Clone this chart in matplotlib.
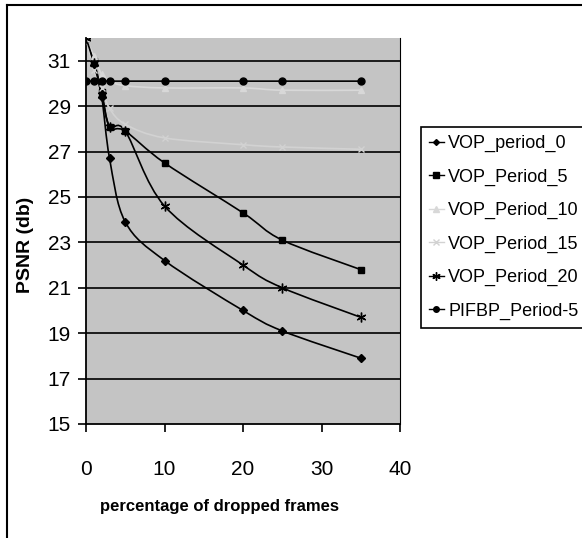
import numpy as np
import matplotlib
matplotlib.use('Agg')
from matplotlib import pyplot as plt
from matplotlib.path import Path
from matplotlib.patches import PathPatch
from matplotlib.lines import Line2D
from matplotlib import font_manager

names = {f.name for f in font_manager.fontManager.ttflist}
narrow = 'Liberation Sans Narrow' if 'Liberation Sans Narrow' in names else 'Liberation Sans'

# data
x = [0, 1, 2, 3, 5, 10, 20, 25, 35]
vop_0 = [32.0, 30.8, 29.4, 26.7, 23.9, 22.2, 20.0, 19.1, 17.9]
vop_5 = [32.0, 31.0, 29.6, 28.1, 27.9, 26.5, 24.3, 23.1, 21.8]
vop_10 = [32.0, 31.2, 30.4, 30.1, 29.9, 29.8, 29.8, 29.7, 29.7]
vop_15 = [32.0, 30.6, 29.8, 28.9, 28.2, 27.6, 27.3, 27.2, 27.1]
vop_20 = [32.0, 30.9, 29.5, 28.1, 27.9, 24.6, 22.0, 21.0, 19.7]
pifbp_5 = [30.1, 30.1, 30.1, 30.1, 30.1, 30.1, 30.1, 30.1, 30.1]

series = [
    ('VOP_period_0', vop_0, 'D', 4, 'black'),
    ('VOP_Period_5', vop_5, 's', 5, 'black'),
    ('VOP_Period_10', vop_10, '^', 5, '#d8d8d8'),
    ('VOP_Period_15', vop_15, 'x', 5, '#d2d2d2'),
    ('VOP_Period_20', vop_20, (6, 2, 0), 7, 'black'),
    ('PIFBP_Period-5', pifbp_5, 'o', 5, 'black'),
]


def smooth_path(xs, ys):
    # bezier segments like the spreadsheet "smoothed line" option
    pts = np.column_stack([xs, ys]).astype(float)
    verts = [pts[0]]
    codes = [Path.MOVETO]
    n = len(pts)
    for i in range(n - 1):
        p0 = pts[max(i - 1, 0)]
        p1 = pts[i]
        p2 = pts[i + 1]
        p3 = pts[min(i + 2, n - 1)]
        c1 = p1 + (p2 - p0) / 6.0
        c2 = p2 - (p3 - p1) / 6.0
        verts += [c1, c2, p2]
        codes += [Path.CURVE4] * 3
    return Path(verts, codes)


fig = plt.figure(figsize=(5.82, 5.38), dpi=100)
ax = fig.add_axes([86 / 582, 1 - 424 / 538, 314 / 582, 386 / 538])
ax.set_facecolor('#c4c4c4')

for name, vals, mk, ms, col in series:
    ax.add_patch(PathPatch(smooth_path(x, vals), fill=False, edgecolor=col, lw=1.2, zorder=3))
    ax.plot(x, vals, linestyle='none', marker=mk, markersize=ms, color=col,
            markeredgecolor=col, zorder=4)

ax.set_xlim(0, 40)
ax.set_ylim(15, 32)
ax.set_xticks([0, 10, 20, 30, 40])
ax.set_yticks(range(15, 32, 2))
for yv in range(17, 32, 2):
    ax.axhline(yv, color='black', lw=1.2, zorder=2)

ax.spines['top'].set_visible(False)
for s in ['left', 'bottom', 'right']:
    ax.spines[s].set_color('black')
    ax.spines[s].set_linewidth(1.3)
ax.spines['right'].set_linewidth(0.8)
ax.tick_params(direction='out', length=6, width=1.2, colors='black')
ax.tick_params(axis='x', pad=20)
ax.tick_params(axis='y', pad=5)
for lab in ax.get_xticklabels() + ax.get_yticklabels():
    lab.set_fontfamily(narrow)
    lab.set_fontsize(15)

ax.set_xlabel('percentage of dropped frames', fontfamily=narrow, fontweight='bold',
              fontsize=12)
ax.xaxis.set_label_coords(0.424, -0.195)
ax.set_ylabel('PSNR (db)', fontfamily='Liberation Sans', fontweight='bold',
              fontsize=14)
ax.yaxis.set_label_coords(-0.165, 0.465)

handles = [Line2D([], [], color=col, marker=mk, markersize=ms - 1, lw=1.0)
           for name, vals, mk, ms, col in series]
leg = fig.legend(handles, [s[0] for s in series], loc='upper left',
                 bbox_to_anchor=(421 / 582, 1 - 127 / 538), frameon=True,
                 fancybox=False, edgecolor='black', framealpha=1,
                 prop={'family': narrow, 'size': 13}, handlelength=0.8,
                 handletextpad=0.25, labelspacing=0.9, borderpad=0.45,
                 borderaxespad=0)
leg.get_frame().set_linewidth(1.2)

# outer chart frame (only left and top visible)
fig.add_artist(Line2D([7 / 582, 7 / 582], [0, 1 - 5 / 538], color='black', lw=1.5))
fig.add_artist(Line2D([7 / 582, 1], [1 - 5 / 538, 1 - 5 / 538], color='black', lw=1.5))

fig.savefig('out.png', dpi=100)
